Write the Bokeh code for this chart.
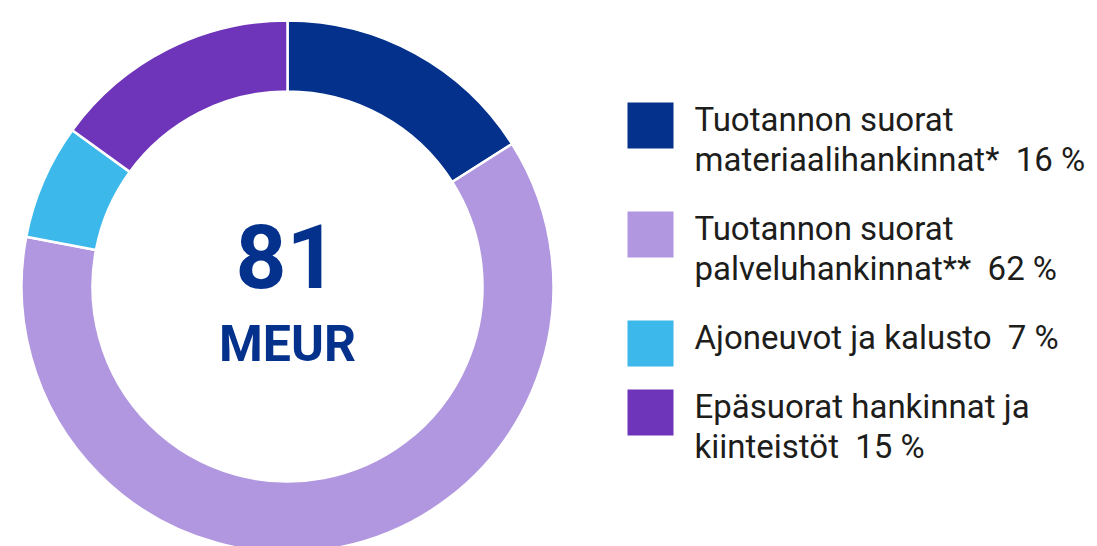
import math
from bokeh.plotting import figure
from bokeh.models import Range1d
from bokeh.embed import file_html
from bokeh.resources import INLINE
from bokeh.core.properties import value

# ---- data ----
categories = ["Tuotannon suorat\nmateriaalihankinnat*",
              "Tuotannon suorat\npalveluhankinnat**",
              "Ajoneuvot ja kalusto",
              "Epäsuorat hankinnat ja\nkiinteistöt"]
shares = [16, 62, 7, 15]
colors = ["#03318c", "#b197df", "#3db8ea", "#6e35ba"]
total_value = "81"
unit_label = "MEUR"

W, H = 1097, 546
p = figure(width=W, height=H, output_backend="svg", toolbar_location=None,
           x_range=Range1d(0, W), y_range=Range1d(0, H), min_border=0)
p.axis.visible = False
p.xgrid.visible = False
p.ygrid.visible = False
p.outline_line_color = None
p.background_fill_color = "white"
p.border_fill_color = "white"

def py(page_y):
    return H - page_y

cx, cy = 287, py(286)
r_out, r_in = 266, 195

total = sum(shares)
cum = 0
starts, ends = [], []
for s in shares:
    starts.append(math.pi / 2 - 2 * math.pi * cum / total)
    cum += s
    ends.append(math.pi / 2 - 2 * math.pi * cum / total)

p.annular_wedge(x=[cx] * len(shares), y=[cy] * len(shares), inner_radius=r_in, outer_radius=r_out,
                start_angle=starts, end_angle=ends, direction="clock",
                fill_color=colors, line_color="white", line_width=2.5)

p.text(x=[cx - 1], y=[py(255.5)], text=[total_value], text_align="center", text_baseline="middle",
       text_font=value("Roboto"), text_font_style="bold", text_font_size="89px",
       text_color="#03318c")
p.text(x=[cx], y=[py(343.5)], text=[unit_label], text_align="center", text_baseline="middle",
       text_font=value("Roboto"), text_font_style="bold", text_font_size="50px",
       text_color="#03318c")

# legend
sq_x, sq_size = 650, 46
tx = 694
line_h = 40
y_top = 102
sx, sy, sc = [], [], []
lx, ly, lt = [], [], []
for cat, s, c in zip(categories, shares, colors):
    lines = cat.split("\n")
    lines[-1] = lines[-1] + "\u00a0 " + f"{s}\u00a0%"
    sx.append(sq_x)
    sy.append(py(y_top + sq_size / 2))
    sc.append(c)
    for k, ln in enumerate(lines):
        lx.append(tx)
        ly.append(py(y_top + 17 + line_h * k))
        lt.append(ln)
    y_top += len(lines) * line_h + 29

p.rect(x=sx, y=sy, width=sq_size, height=sq_size, fill_color=sc, line_color=None)
p.text(x=lx, y=ly, text=lt, text_align="left", text_baseline="middle",
       text_font=value("Roboto"), text_font_size="33px", text_color="#1d1d1b")

open("out.html", "w").write(file_html(p, INLINE))
